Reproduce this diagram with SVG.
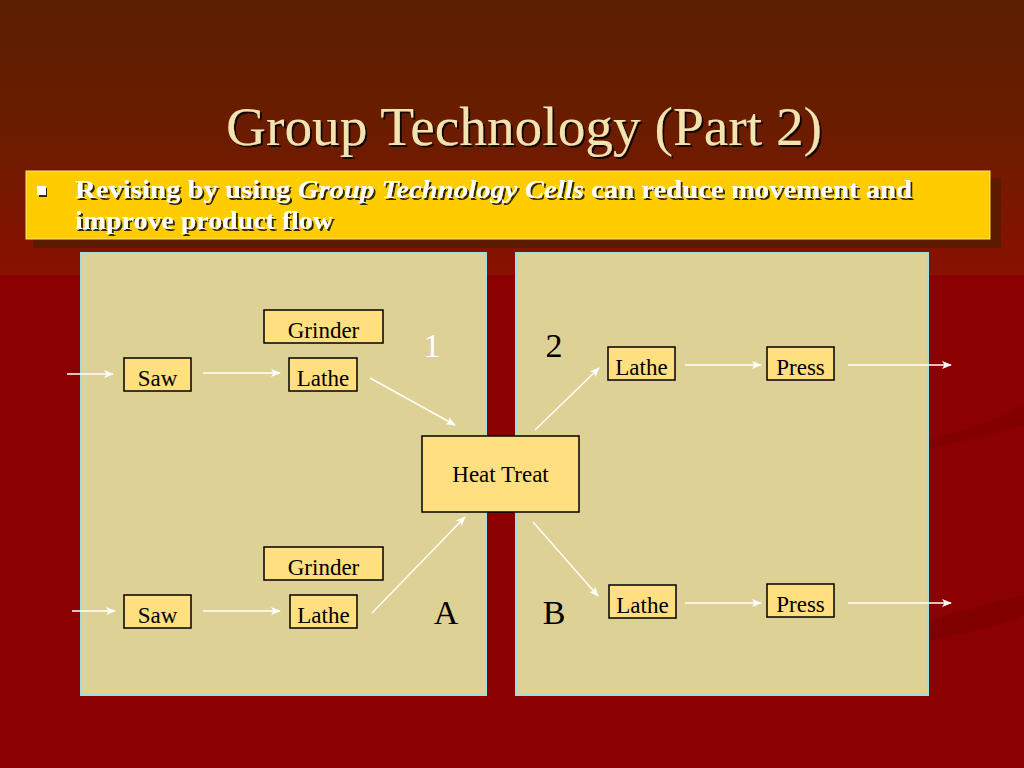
<svg xmlns="http://www.w3.org/2000/svg" width="1024" height="768" viewBox="0 0 1024 768">
<defs>
<linearGradient id="bg" x1="0" y1="0" x2="0" y2="1">
<stop offset="0" stop-color="#5a1f00"/>
<stop offset="0.5" stop-color="#6c1c00"/>
<stop offset="1" stop-color="#8a1000"/>
</linearGradient>
<marker id="ah" viewBox="0 0 10 10" refX="9" refY="5" markerWidth="10" markerHeight="10" markerUnits="userSpaceOnUse" orient="auto">
<path d="M0,1 L10,5 L0,9 L2.5,5 Z" fill="#ffffff"/>
</marker>
<filter id="sh" x="-5%" y="-20%" width="110%" height="140%">
<feDropShadow dx="2" dy="2" stdDeviation="0.6" flood-color="#000" flood-opacity="0.8"/>
</filter>
</defs>
<style>
.node rect{fill:#ffdf80;stroke:#000;stroke-width:1.5}
.node text{font-family:"Liberation Serif",serif;font-size:23px;fill:#000;text-anchor:middle}
.panel{fill:#ddd196;stroke:#9fe0dc;stroke-width:2}
.conn line{stroke:#fff;stroke-width:1.5;marker-end:url(#ah)}
.lbl{font-family:"Liberation Serif",serif;font-size:34px;text-anchor:middle}
</style>
<rect x="0" y="0" width="1024" height="275" fill="url(#bg)"/>
<rect x="0" y="275" width="1024" height="493" fill="#8b0000"/>
<path d="M930,440 C980,425 1010,415 1024,405 L1024,425 C1000,432 970,440 930,448 Z" fill="#7e0000" opacity="0.6"/>
<path d="M930,620 C970,610 1000,600 1024,595 L1024,615 C1000,625 970,632 930,640 Z" fill="#7a0000" opacity="0.6"/>
<text x="226" y="145" font-family="Liberation Serif,serif" font-size="54" fill="#f2e3b0" textLength="596" lengthAdjust="spacingAndGlyphs" filter="url(#sh)">Group Technology (Part 2)</text>
<rect x="33" y="178" width="968" height="70" fill="#5c1a00"/>
<rect x="26" y="171" width="964" height="68" fill="#ffcc00" stroke="#ffe680" stroke-width="1"/>
<rect x="37" y="186" width="9" height="9" fill="#fff" filter="url(#sh)"/>
<g font-family="Liberation Serif,serif" font-size="25" font-weight="bold" fill="#fff" filter="url(#sh)">
<text x="75" y="198" textLength="837" lengthAdjust="spacingAndGlyphs">Revising by using <tspan font-style="italic">Group Technology Cells</tspan> can reduce movement and</text>
<text x="75" y="229" textLength="258" lengthAdjust="spacingAndGlyphs">improve product flow</text>
</g>
<rect class="panel" x="81" y="253" width="405" height="442"/>
<rect class="panel" x="516" y="253" width="412" height="442"/>
<text class="lbl" x="432" y="357" fill="#fff">1</text>
<text class="lbl" x="554" y="357" fill="#000">2</text>
<text class="lbl" x="446" y="624" fill="#000">A</text>
<text class="lbl" x="554" y="624" fill="#000">B</text>
<g class="conn">
<line x1="67" y1="374" x2="113" y2="374"/>
<line x1="203" y1="373" x2="280" y2="373"/>
<line x1="370" y1="378" x2="455" y2="425"/>
<line x1="372" y1="613" x2="465" y2="517"/>
<line x1="72" y1="611" x2="115" y2="611"/>
<line x1="203" y1="611" x2="280" y2="611"/>
<line x1="535" y1="430" x2="599" y2="368"/>
<line x1="685" y1="365" x2="761" y2="365"/>
<line x1="848" y1="365" x2="951" y2="365"/>
<line x1="533" y1="522" x2="598" y2="596"/>
<line x1="685" y1="603" x2="761" y2="603"/>
<line x1="848" y1="603" x2="951" y2="603"/>
</g>
<g id="grinder1" class="node"><rect x="264" y="310" width="119" height="33"/><text x="323.5" y="338">Grinder</text></g>
<g id="saw1" class="node"><rect x="124" y="358" width="67" height="33"/><text x="157.5" y="386">Saw</text></g>
<g id="lathe1" class="node"><rect x="289" y="358" width="68" height="33"/><text x="323" y="386">Lathe</text></g>
<g id="heattreat" class="node"><rect x="422" y="436" width="157" height="76"/><text x="500.5" y="482">Heat Treat</text></g>
<g id="lathe2" class="node"><rect x="608" y="347" width="67" height="33"/><text x="641.5" y="375">Lathe</text></g>
<g id="press2" class="node"><rect x="767" y="347" width="67" height="33"/><text x="800.5" y="375">Press</text></g>
<g id="grinderA" class="node"><rect x="264" y="547" width="119" height="33"/><text x="323.5" y="575">Grinder</text></g>
<g id="sawA" class="node"><rect x="124" y="595" width="67" height="33"/><text x="157.5" y="623">Saw</text></g>
<g id="latheA" class="node"><rect x="290" y="595" width="67" height="33"/><text x="323.5" y="623">Lathe</text></g>
<g id="latheB" class="node"><rect x="609" y="585" width="67" height="33"/><text x="642.5" y="613">Lathe</text></g>
<g id="pressB" class="node"><rect x="767" y="584" width="67" height="33"/><text x="800.5" y="612">Press</text></g>
</svg>
